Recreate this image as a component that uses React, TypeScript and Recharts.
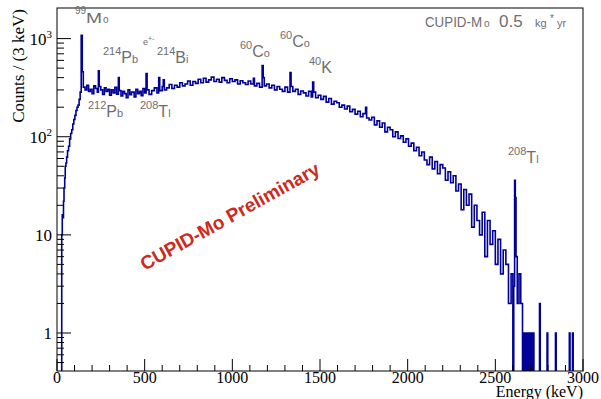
import { ComposedChart, Line, XAxis, YAxis } from 'recharts';

// energy (keV) at which each step starts, and its counts per 3 keV
const energies = [
  0, 27, 30, 34, 37, 40, 44, 47, 51, 55, 60, 66, 72, 78, 84, 90, 96, 102, 108, 114, 120, 126, 132, 138, 144,
  150, 160, 170, 180, 190, 200, 210, 220, 230, 236, 241, 250, 260, 270, 280, 290, 300, 310, 320, 330, 340, 350, 355,
  365, 375, 385, 395, 405, 415, 425, 440, 450, 460, 470, 480, 490, 500, 508, 514, 525, 540, 555, 570, 580, 586,
  600, 606, 612, 625, 640, 655, 670, 685, 700, 715, 730, 745, 760, 775, 790, 805, 820, 835, 850, 865, 880, 895,
  910, 925, 940, 955, 970, 985, 1000, 1015, 1030, 1045, 1060, 1075, 1090, 1105, 1120, 1126, 1140, 1155, 1170, 1176,
  1182, 1195, 1210, 1225, 1240, 1255, 1270, 1285, 1300, 1315, 1329, 1335, 1345, 1360, 1375, 1390, 1405, 1420, 1435,
  1450, 1458, 1464, 1475, 1490, 1505, 1520, 1535, 1550, 1565, 1580, 1595, 1610, 1625, 1640, 1655, 1670, 1685, 1700,
  1715, 1730, 1745, 1760, 1766, 1780, 1795, 1810, 1825, 1840, 1855, 1870, 1885, 1900, 1915, 1930, 1945, 1960, 1975,
  1990, 2005, 2020, 2035, 2050, 2065, 2080, 2095, 2110, 2125, 2140, 2155, 2170, 2185, 2200, 2215, 2230, 2245, 2260,
  2275, 2290, 2305, 2320, 2335, 2350, 2365, 2380, 2395, 2410, 2425, 2440, 2455, 2470, 2485, 2500, 2515, 2530, 2545,
  2560, 2575, 2590, 2600, 2605, 2610, 2614, 2618, 2625, 2635, 2645, 2655, 2660, 2665, 2672, 2680, 2688, 2693, 2700,
  2706, 2713, 2720, 2752, 2756, 2795, 2799, 2843, 2847, 2922, 2926, 2940, 2944, 3000,
];
const counts = [
  0, 10, 16, 15, 22, 30, 38, 50, 54, 62, 72, 80, 95, 108, 118, 135, 150, 165, 185, 200, 210, 240, 285, 1080, 460,
  320, 300, 335, 290, 305, 275, 330, 310, 285, 470, 325, 300, 270, 315, 290, 305, 265, 300, 280, 318, 272, 400, 295,
  260, 290, 275, 250, 300, 268, 285, 255, 305, 275, 290, 262, 310, 280, 440, 300, 270, 295, 315, 280, 400, 295,
  325, 380, 300, 315, 340, 310, 335, 320, 355, 330, 345, 370, 335, 365, 350, 385, 355, 395, 360, 380, 405, 365,
  385, 360, 400, 375, 355, 390, 365, 380, 345, 372, 355, 340, 370, 345, 395, 330, 350, 320, 530, 400,
  330, 345, 315, 335, 300, 325, 305, 290, 320, 285, 450, 325, 290, 305, 270, 292, 280, 260, 290,
  255, 360, 285, 250, 265, 240, 258, 225, 245, 215, 230, 222, 200, 210, 192, 205, 180, 190, 170,
  182, 160, 172, 200, 155, 148, 158, 132, 145, 125, 138, 112, 125, 118, 100, 112, 96, 102, 88,
  95, 80, 86, 72, 78, 64, 70, 58, 52, 62, 47, 56, 42, 52, 48, 36, 44, 34, 40,
  28, 33, 18, 29, 20, 26, 12, 20, 14, 10, 17, 6, 14, 8, 11, 5, 9, 4, 7,
  5, 2, 4, 0, 3, 36, 24, 6, 2, 4, 2, 0, 1, 0, 1, 0, 1, 0, 1,
  0, 1, 0, 2, 0, 1, 0, 1, 0, 1, 0, 1, 0, 0,
];
const xTicks = [0, 100, 200, 300, 400, 500, 600, 700, 800, 900, 1000, 1100, 1200, 1300, 1400, 1500, 1600, 1700, 1800, 1900, 2000, 2100, 2200, 2300, 2400, 2500, 2600, 2700, 2800, 2900, 3000];
const yTicks = [0.5, 0.6, 0.7, 0.8, 0.9, 1, 2, 3, 4, 5, 6, 7, 8, 9, 10, 20, 30, 40, 50, 60, 70, 80, 90, 100, 200, 300, 400, 500, 600, 700, 800, 900, 1000];
const yLabels: Record<number, [string, string]> = { 1: ['1', ''], 10: ['10', ''], 100: ['10', '2'], 1000: ['10', '3'] };

// zero bins fall below the frame, as in a log-scale histogram
const data = energies.map((e, i) => ({ e, v: counts[i] > 0 ? counts[i] : 0.05 }));

const SERIF = '"Liberation Serif", "Times New Roman", serif';
const SANS = '"Liberation Sans", Arial, sans-serif';
const GREY = '#6e6e6e';

function XTick(props: any) {
  const { x, y, payload } = props;
  const major = payload.value % 500 === 0;
  return (
    <g>
      <line x1={x} x2={x} y1={y} y2={y - (major ? 12 : 6)} stroke="#000" strokeWidth={1} />
      {major && (
        <text x={x} y={y + 12} textAnchor="middle" fontFamily={SERIF} fontSize={16} fill="#000">
          {payload.value}
        </text>
      )}
    </g>
  );
}

function YTick(props: any) {
  const { x, y, payload } = props;
  const lab = yLabels[payload.value];
  return (
    <g>
      <line x1={x} x2={x + (lab ? 14 : 7)} y1={y} y2={y} stroke="#000" strokeWidth={1} />
      {lab && (
        <text x={x - 5} y={y + 6} textAnchor="end" fontFamily={SERIF} fontSize={17} fill="#000">
          {lab[0]}
          {lab[1] && (
            <tspan fontSize={11} dy={-7}>
              {lab[1]}
            </tspan>
          )}
        </text>
      )}
    </g>
  );
}

function Iso({ x, y, mass, big, small }: { x: number; y: number; mass: string; big: string; small?: string }) {
  return (
    <text x={x} y={y} fontFamily={SANS} fill={GREY}>
      <tspan fontSize={11} dy={-8}>{mass}</tspan>
      <tspan fontSize={16} dy={8}>{big}</tspan>
      {small && <tspan fontSize={11}>{small}</tspan>}
    </text>
  );
}

export default function App() {
  return (
    <div style={{ position: 'absolute', left: 0, top: 0, width: 601, height: 399, background: '#fff' }}>
      <ComposedChart width={601} height={399} data={data} margin={{ top: 8, right: 18, bottom: 0, left: 0 }}>
        <XAxis
          dataKey="e"
          type="number"
          domain={[0, 3000]}
          ticks={xTicks}
          tick={(p: any) => <XTick {...p} />}
          tickLine={false}
          axisLine={false}
          tickSize={0}
          tickMargin={0}
          height={28}
          interval={0}
        />
        <YAxis
          scale="log"
          domain={[0.41, 2050]}
          allowDataOverflow
          ticks={yTicks}
          tick={(p: any) => <YTick {...p} />}
          tickLine={false}
          axisLine={false}
          tickSize={0}
          tickMargin={0}
          width={57}
          interval={0}
        />
        <Line
          type="stepAfter"
          dataKey="v"
          stroke="#000099"
          strokeWidth={1.6}
          dot={false}
          activeDot={false}
          isAnimationActive={false}
        />
      </ComposedChart>
      <svg width={601} height={399} style={{ position: 'absolute', left: 0, top: 0, pointerEvents: 'none' }}>
        <rect x={57} y={8} width={526} height={363} fill="none" stroke="#000" strokeWidth={1} />
        <text transform="translate(24,9) rotate(-90)" textAnchor="end" fontFamily={SERIF} fontSize={17} fill="#000">
          Counts / (3 keV)
        </text>
        <text x={583} y={397} textAnchor="end" fontFamily={SERIF} fontSize={16} fill="#000">
          Energy (keV)
        </text>
        <text x={75} y={14} fontFamily={SANS} fontSize={10} fill={GREY}>99</text>
        <text x={86} y={23} fontFamily={SANS} fontSize={15} fill={GREY} textLength={16} lengthAdjust="spacingAndGlyphs">M</text>
        <text x={103} y={23} fontFamily={SANS} fontSize={10} fill={GREY}>o</text>
        <text x={143} y={45} fontFamily={SANS} fill={GREY}>
          <tspan fontSize={9}>e</tspan>
          <tspan fontSize={7} dy={-4}>+-</tspan>
        </text>
        <Iso x={103} y={63} mass="214" big="P" small="b" />
        <Iso x={157} y={63} mass="214" big="B" small="i" />
        <Iso x={88} y={117} mass="212" big="P" small="b" />
        <Iso x={140} y={117} mass="208" big="T" small="l" />
        <Iso x={240} y={57} mass="60" big="C" small="o" />
        <Iso x={280} y={47} mass="60" big="C" small="o" />
        <Iso x={309} y={73} mass="40" big="K" />
        <Iso x={508} y={163} mass="208" big="T" small="l" />
        <g fontFamily={SANS} fill={GREY}>
          <text x={425} y={27} fontSize={14} textLength={57} lengthAdjust="spacingAndGlyphs">CUPID-M</text>
          <text x={484} y={27} fontSize={10}>o</text>
          <text x={499} y={27} fontSize={17}>0.5</text>
          <text x={535} y={27} fontSize={11}>kg</text>
          <text x={550} y={22} fontSize={10}>*</text>
          <text x={557} y={27} fontSize={11}>yr</text>
        </g>
        <text
          transform="translate(233,222) rotate(-29)"
          textAnchor="middle"
          fontFamily={SANS}
          fontWeight="bold"
          fontSize={19}
          fill="#cc2a1c"
        >
          CUPID-Mo Preliminary
        </text>
      </svg>
    </div>
  );
}
